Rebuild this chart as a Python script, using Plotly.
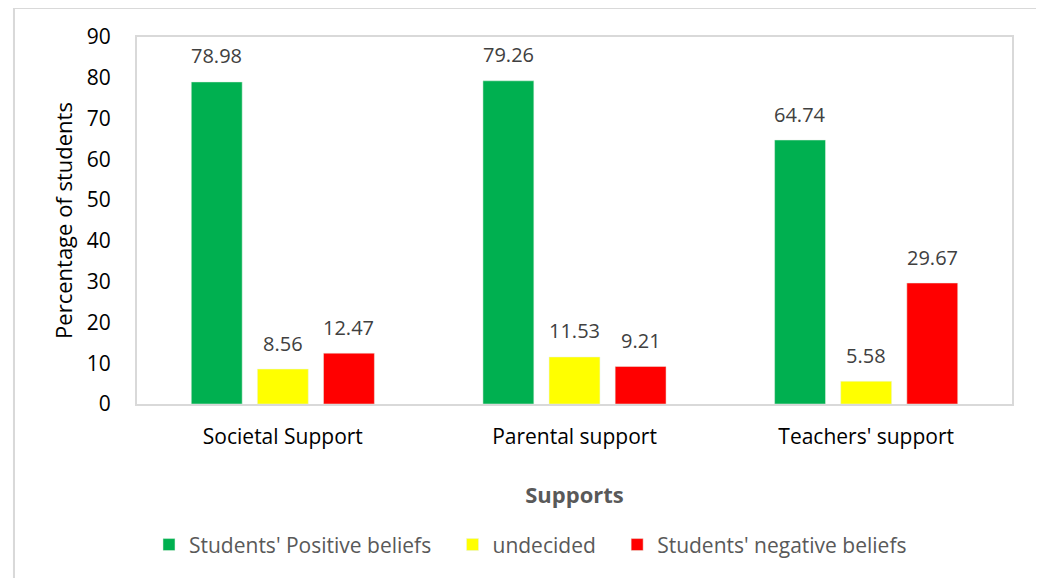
import plotly.graph_objects as go

FONT = "Open Sans"

categories = ["Societal Support", "Parental support", "Teachers' support"]
positive = [78.98, 79.26, 64.74]
undecided = [8.56, 11.53, 5.58]
negative = [12.47, 9.21, 29.67]

# trailing non-breaking spaces widen the gaps between legend items
PAD = "\u00a0" * 3
series = [
    ("Students' Positive beliefs" + PAD, positive, "#00B050"),
    ("undecided" + PAD, undecided, "#FFFF00"),
    ("Students' negative beliefs", negative, "#FF0000"),
]

# slot width of one bar inside a group, in px (plot width 875 / 3 cats * (1 - bargap) / 3)
SLOT = 66

fig = go.Figure()
annotations = []
for i, (name, vals, color) in enumerate(series):
    fig.add_bar(
        x=categories,
        y=vals,
        name=name,
        marker=dict(color=color, line=dict(color="#e6f2e6", width=0.5)),
    )
    for cat, v in zip(categories, vals):
        annotations.append(dict(
            x=cat, y=v, xref="x", yref="y",
            text=f"{v:.2f}", showarrow=False,
            xshift=(i - 1) * SLOT, yshift=26, yanchor="middle",
            font=dict(family=FONT, size=20, color="#404040"),
        ))

fig.update_layout(
    width=1044,
    height=578,
    template="plotly_white",
    paper_bgcolor="white",
    plot_bgcolor="white",
    barmode="group",
    bargap=0.32,
    bargroupgap=0.23,
    margin=dict(l=129, r=40, t=29, b=182),
    font=dict(family=FONT, size=21, color="#000000"),
    showlegend=True,
    annotations=annotations,
    legend=dict(
        orientation="h",
        x=0.0137,
        xanchor="left",
        y=-0.384,
        yanchor="middle",
        font=dict(family=FONT, size=21, color="#595959"),
        itemwidth=30,
        traceorder="normal",
    ),
    shapes=[
        dict(
            type="rect",
            xref="paper",
            yref="paper",
            x0=-0.1406,
            x1=1.032,
            y0=-0.6,
            y1=1.079,
            line=dict(color="#d9d9d9", width=2),
            fillcolor="rgba(0,0,0,0)",
            layer="below",
        )
    ],
)

fig.update_xaxes(
    title=dict(text="<b>Supports</b>", font=dict(family=FONT, size=22, color="#595959"), standoff=38),
    showline=True,
    linecolor="#d9d9d9",
    linewidth=2,
    mirror=True,
    showgrid=False,
    ticks="",
    ticklabelstandoff=13,
    tickfont=dict(family=FONT, size=21, color="#000000"),
)
fig.update_yaxes(
    title=dict(text="Percentage of students", font=dict(family=FONT, size=22, color="#000000"), standoff=8),
    range=[0, 90],
    dtick=10,
    showline=True,
    linecolor="#d9d9d9",
    linewidth=2,
    mirror=True,
    showgrid=False,
    zeroline=False,
    ticks="",
    ticklabelstandoff=20,
    tickfont=dict(family=FONT, size=21, color="#000000"),
)

fig.write_html("out.html")
